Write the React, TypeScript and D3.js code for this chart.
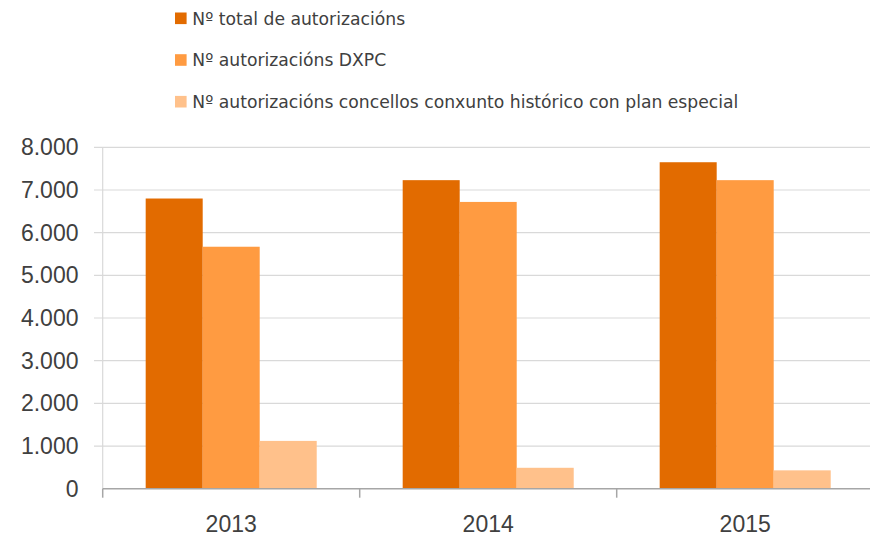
import { useEffect, useRef } from "react";
import * as d3 from "d3";

const years = ["2013", "2014", "2015"];
const seriesNames = [
  "Nº total de autorizacións",
  "Nº autorizacións DXPC",
  "Nº autorizacións concellos conxunto histórico con plan especial",
];
const totalAuth = [6800, 7230, 7650];
const dxpcAuth = [5670, 6720, 7230];
const concellosAuth = [1120, 490, 430];
const yTicks = [0, 1000, 2000, 3000, 4000, 5000, 6000, 7000, 8000];
const colors = ["#E26B00", "#FF9B41", "#FFC18B"];

function App() {
  const ref = useRef(null);

  useEffect(() => {
    const width = 870;
    const height = 537;
    const left = 102.7;
    const step = 257;
    const font = "'Liberation Sans', Arial, sans-serif";
    const legendFont = "'DejaVu Sans', sans-serif";
    const textColor = "#404040";

    const root = d3.select(ref.current);
    root.selectAll("*").remove();

    const svg = root
      .append("svg")
      .attr("width", width)
      .attr("height", height)
      .style("position", "absolute")
      .style("left", 0)
      .style("top", 0)
      .style("background", "#fff");

    const x = d3
      .scaleBand()
      .domain(years)
      .range([left, left + step * years.length])
      .padding(0);

    const x1 = d3
      .scaleBand()
      .domain(seriesNames)
      .range([0, x.bandwidth()])
      .paddingInner(0)
      .paddingOuter(0.754);

    const y = d3.scaleLinear().domain([0, 8000]).range([488.7, 147.3]);

    // gridlines
    svg
      .selectAll(".grid")
      .data(yTicks.slice(1))
      .enter()
      .append("line")
      .attr("x1", 94)
      .attr("x2", width)
      .attr("y1", (d) => y(d))
      .attr("y2", (d) => y(d))
      .attr("stroke", "#D9D9D9")
      .attr("stroke-width", 1.2);

    // y axis line
    svg
      .append("line")
      .attr("x1", left)
      .attr("x2", left)
      .attr("y1", y(8000))
      .attr("y2", y(0))
      .attr("stroke", "#D9D9D9")
      .attr("stroke-width", 1.2);

    // y labels
    svg
      .selectAll(".ylab")
      .data(yTicks)
      .enter()
      .append("text")
      .attr("x", 78.5)
      .attr("y", (d) => y(d) + 8)
      .attr("text-anchor", "end")
      .attr("font-family", font)
      .attr("font-size", 23)
      .attr("fill", textColor)
      .text((d) => (d === 0 ? "0" : d3.format(",")(d).replace(/,/g, ".")));

    // bars
    const series = [totalAuth, dxpcAuth, concellosAuth];
    series.forEach((values, i) => {
      svg
        .selectAll(`.bar${i}`)
        .data(values)
        .enter()
        .append("rect")
        .attr("x", (d, j) => x(years[j]) + x1(seriesNames[i]))
        .attr("y", (d) => y(d))
        .attr("width", x1.bandwidth())
        .attr("height", (d) => y(0) - y(d))
        .attr("fill", colors[i]);
    });

    // x axis
    svg
      .append("line")
      .attr("x1", left)
      .attr("x2", width)
      .attr("y1", y(0))
      .attr("y2", y(0))
      .attr("stroke", "#A6A6A6")
      .attr("stroke-width", 1.5);

    svg
      .selectAll(".xtick")
      .data(years)
      .enter()
      .append("line")
      .attr("x1", (d) => x(d))
      .attr("x2", (d) => x(d))
      .attr("y1", y(0))
      .attr("y2", y(0) + 9)
      .attr("stroke", "#A6A6A6")
      .attr("stroke-width", 1.5);

    svg
      .selectAll(".xlab")
      .data(years)
      .enter()
      .append("text")
      .attr("x", (d) => x(d) + x.bandwidth() / 2)
      .attr("y", 531.5)
      .attr("text-anchor", "middle")
      .attr("font-family", font)
      .attr("font-size", 23)
      .attr("fill", textColor)
      .text((d) => d);

    // legend
    const legend = svg
      .selectAll(".legend")
      .data(seriesNames)
      .enter()
      .append("g")
      .attr("transform", (d, i) => `translate(175, ${18.3 + i * 41.7})`);

    legend
      .append("rect")
      .attr("x", 0)
      .attr("y", -5.8)
      .attr("width", 11.6)
      .attr("height", 11.6)
      .attr("fill", (d, i) => colors[i]);

    legend
      .append("text")
      .attr("x", 17.3)
      .attr("y", 6.2)
      .attr("font-family", legendFont)
      .attr("font-size", 17.2)
      .attr("fill", textColor)
      .text((d) => d);
  }, []);

  return <div ref={ref}></div>;
}

export default App;
